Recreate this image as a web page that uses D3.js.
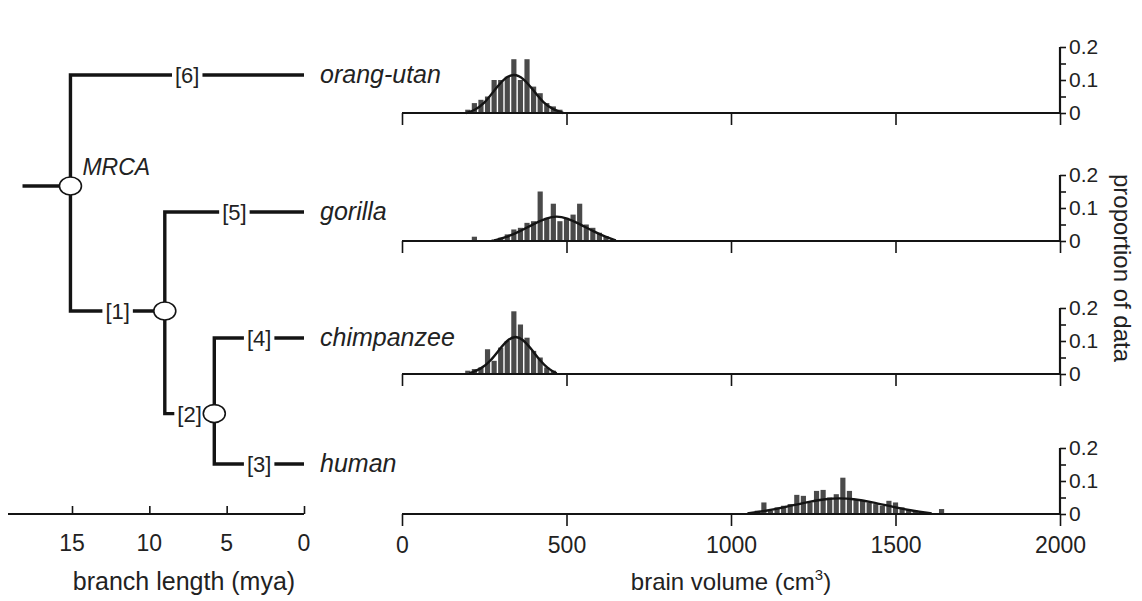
<!DOCTYPE html>
<html><head><meta charset="utf-8">
<script src="https://cdn.jsdelivr.net/npm/d3@7"></script>
<style>
body{margin:0;background:#fff}
svg{display:block}
text{font-family:"Liberation Sans",Arial,Helvetica,sans-serif;fill:#222}
</style>
</head><body>
<svg id="chart" width="1142" height="601"></svg>
<script>
// ---- data ----
const species = ["orang-utan", "gorilla", "chimpanzee", "human"];
const binWidth = 20; // cm^3

const orangCenters = [200,220,240,260,280,300,320,340,360,380,400,420,440,460,480];
const orangProps   = [0.01,0.03,0.04,0.05,0.10,0.10,0.11,0.163,0.10,0.163,0.08,0.06,0.03,0.02,0.01];
const orangFit = [[195,0],[220,0.008],[250,0.028],[280,0.068],[310,0.105],[340,0.12],[370,0.105],[400,0.068],[430,0.03],[460,0.01],[490,0]];

const gorillaCenters = [220,280,300,320,340,360,380,400,420,440,460,480,500,520,540,560,580,600,620,640];
const gorillaProps   = [0.013,0.005,0.01,0.02,0.035,0.04,0.055,0.06,0.15,0.07,0.113,0.06,0.07,0.08,0.113,0.05,0.04,0.025,0.015,0.005];
const gorillaFit = [[280,0.002],[320,0.012],[360,0.03],[400,0.052],[440,0.07],[470,0.076],[500,0.07],[540,0.052],[580,0.03],[620,0.012],[650,0.002]];

const chimpCenters = [200,220,240,260,280,300,320,340,360,380,400,420,440,460];
const chimpProps   = [0.01,0.015,0.02,0.075,0.04,0.08,0.10,0.19,0.15,0.11,0.07,0.05,0.02,0.01];
const chimpFit = [[205,0.002],[240,0.015],[270,0.04],[300,0.08],[325,0.107],[345,0.115],[365,0.107],[390,0.08],[420,0.04],[445,0.015],[470,0.002]];

const humanCenters = [1060,1080,1100,1120,1140,1160,1180,1200,1220,1240,1260,1280,1300,1320,1340,1360,1380,1400,1420,1440,1460,1480,1500,1520,1540,1560,1580,1640];
const humanProps   = [0.005,0.01,0.035,0.01,0.02,0.025,0.03,0.058,0.055,0.035,0.07,0.073,0.05,0.06,0.11,0.07,0.045,0.04,0.035,0.03,0.025,0.04,0.035,0.02,0.015,0.01,0.005,0.015];
const humanFit = [[1050,0.002],[1110,0.01],[1170,0.022],[1230,0.036],[1290,0.046],[1330,0.048],[1370,0.046],[1430,0.036],[1490,0.022],[1550,0.01],[1610,0.002]];

const volumeTicks = [0, 500, 1000, 1500, 2000];
const propTicks = [0, 0.05, 0.1, 0.15, 0.2];
const propLabels = [0, 0.1, 0.2];
const myaTicks = [15, 10, 5, 0];

// tree: node ages (mya) and vertical row (leaves at 0..3)
const treeNodes = [
  {id:"MRCA", mya:15.1, row:0.81},
  {id:"n1", mya:9.0, row:1.786},
  {id:"n2", mya:5.8, row:2.6},
  {id:"orang-utan", mya:0, row:0},
  {id:"gorilla", mya:0, row:1},
  {id:"chimpanzee", mya:0, row:2},
  {id:"human", mya:0, row:3}
];
const treeBranches = [
  {child:"orang-utan", parent:"MRCA", label:"[6]"},
  {child:"n1", parent:"MRCA", label:"[1]"},
  {child:"gorilla", parent:"n1", label:"[5]"},
  {child:"n2", parent:"n1", label:"[2]"},
  {child:"chimpanzee", parent:"n2", label:"[4]"},
  {child:"human", parent:"n2", label:"[3]"}
];
const rootAge = 18.2;

// ---- drawing ----
const svg = d3.select("#chart");
const ink = "#141414";

const panels = [
  {name:"orang-utan", centers:orangCenters, props:orangProps, fit:orangFit, base:113},
  {name:"gorilla", centers:gorillaCenters, props:gorillaProps, fit:gorillaFit, base:241},
  {name:"chimpanzee", centers:chimpCenters, props:chimpProps, fit:chimpFit, base:374},
  {name:"human", centers:humanCenters, props:humanProps, fit:humanFit, base:514}
];
const panelHeight = 66;
const x = d3.scaleLinear().domain([0, 2000]).range([402, 1060]);

panels.forEach((p, i) => {
  const y = d3.scaleLinear().domain([0, 0.2]).range([p.base, p.base - panelHeight]);
  const g = svg.append("g");
  const bars = p.centers.map((c, k) => ({c, v: p.props[k]}));
  g.selectAll("rect").data(bars).enter().append("rect")
    .attr("x", d => x(d.c - binWidth / 2) + 0.7)
    .attr("width", d => x(d.c + binWidth / 2) - x(d.c - binWidth / 2) - 1.4)
    .attr("y", d => y(d.v))
    .attr("height", d => y(0) - y(d.v))
    .attr("fill", "#4a4a4a");
  g.append("path").datum(p.fit)
    .attr("d", d3.line().x(d => x(d[0])).y(d => y(d[1])).curve(d3.curveBasis))
    .attr("fill", "none").attr("stroke", ink).attr("stroke-width", 2.4);

  // x axis (baseline with downward ticks)
  const xa = d3.axisBottom(x).tickValues(volumeTicks).tickSize(12)
    .tickFormat(i === panels.length - 1 ? d3.format("d") : "");
  const ax = g.append("g").attr("transform", `translate(0,${p.base})`).call(xa);
  ax.select(".domain").attr("d", `M${x(0)},0H${x(2000)}`).attr("stroke", ink).attr("stroke-width", 2);
  ax.selectAll(".tick line").attr("stroke", ink).attr("stroke-width", 1.6);
  ax.selectAll(".tick text").attr("font-size", 23).attr("dy", "1.05em").attr("fill", "#222")
    .attr("font-family", '"Liberation Sans",Arial,sans-serif');

  // proportion axis on the right
  const ya = d3.axisRight(y).tickValues(propTicks).tickSize(6)
    .tickFormat(d => propLabels.includes(d) ? d3.format("~g")(d) : "");
  const ay = g.append("g").attr("transform", `translate(${x(2000)},0)`).call(ya);
  ay.select(".domain").attr("d", `M0,${y(0)}V${y(0.2)}`).attr("stroke", ink).attr("stroke-width", 2.2);
  ay.selectAll(".tick line").attr("stroke", ink).attr("stroke-width", 1.6);
  ay.selectAll(".tick text").attr("font-size", 21).attr("x", 9).attr("fill", "#222")
    .attr("font-family", '"Liberation Sans",Arial,sans-serif');
});

svg.append("text").attr("x", x(1000)).attr("y", 590).attr("text-anchor", "middle")
  .attr("font-size", 24)
  .call(t => { t.append("tspan").text("brain volume (cm");
               t.append("tspan").text("3").attr("font-size", 15).attr("dy", -10);
               t.append("tspan").text(")").attr("dy", 10); });
svg.append("text").attr("transform", "translate(1114,268) rotate(90)")
  .attr("text-anchor", "middle").attr("font-size", 24).text("proportion of data");

// ---- tree ----
const tx = d3.scaleLinear().domain([15, 0]).range([72, 304]);
const ty = d3.scaleLinear().domain([0, 1, 2, 3]).range([75, 212, 338, 464]);
const byId = Object.fromEntries(treeNodes.map(n => [n.id, n]));
const tree = svg.append("g");

// root stub
tree.append("line")
  .attr("x1", tx(rootAge)).attr("x2", tx(byId.MRCA.mya))
  .attr("y1", ty(byId.MRCA.row)).attr("y2", ty(byId.MRCA.row))
  .attr("stroke", ink).attr("stroke-width", 3.4);

treeBranches.forEach(b => {
  const c = byId[b.child], p = byId[b.parent];
  const px = tx(p.mya), py = ty(p.row), cx = tx(c.mya), cy = ty(c.row);
  tree.append("path").attr("d", `M${px},${py}V${cy}H${cx}`)
    .attr("fill", "none").attr("stroke", ink).attr("stroke-width", 3.4)
    .attr("stroke-linejoin", "miter");
  const mx = (px + cx) / 2;
  const lbl = tree.append("text").attr("x", mx).attr("y", cy).attr("dy", "0.36em")
    .attr("text-anchor", "middle").attr("font-size", 22).attr("fill", "#555").text(b.label);
  const bb = lbl.node().getBBox();
  tree.insert("rect", () => lbl.node())
    .attr("x", bb.x - 3).attr("y", cy - 4).attr("width", bb.width + 6).attr("height", 8)
    .attr("fill", "#fff");
});

treeNodes.filter(n => n.mya > 0).forEach(n => {
  tree.append("ellipse").attr("cx", tx(n.mya)).attr("cy", ty(n.row))
    .attr("rx", 11).attr("ry", 9).attr("fill", "#fff").attr("stroke", ink).attr("stroke-width", 1.6);
});

tree.append("text").attr("x", tx(byId.MRCA.mya) + 12).attr("y", ty(byId.MRCA.row) - 19)
  .attr("dy", "0.35em").attr("font-size", 23).attr("font-style", "italic").text("MRCA");

species.forEach(s => {
  tree.append("text").attr("x", 320).attr("y", ty(byId[s].row)).attr("dy", "0.33em")
    .attr("font-size", 25).attr("font-style", "italic").text(s);
});

// branch length axis
const ta = d3.axisTop(tx).tickValues(myaTicks).tickSize(8).tickFormat("");
const tg = svg.append("g").attr("transform", "translate(0,514)").call(ta);
tg.select(".domain").attr("d", `M8,0H${tx(0)}`).attr("stroke", ink).attr("stroke-width", 2);
tg.selectAll(".tick line").attr("stroke", ink).attr("stroke-width", 1.6);
myaTicks.forEach(m => {
  svg.append("text").attr("x", tx(m)).attr("y", 551).attr("text-anchor", "middle")
    .attr("font-size", 23).text(m);
});
svg.append("text").attr("x", 184).attr("y", 590).attr("text-anchor", "middle")
  .attr("font-size", 25).text("branch length (mya)");
</script>
</body></html>
